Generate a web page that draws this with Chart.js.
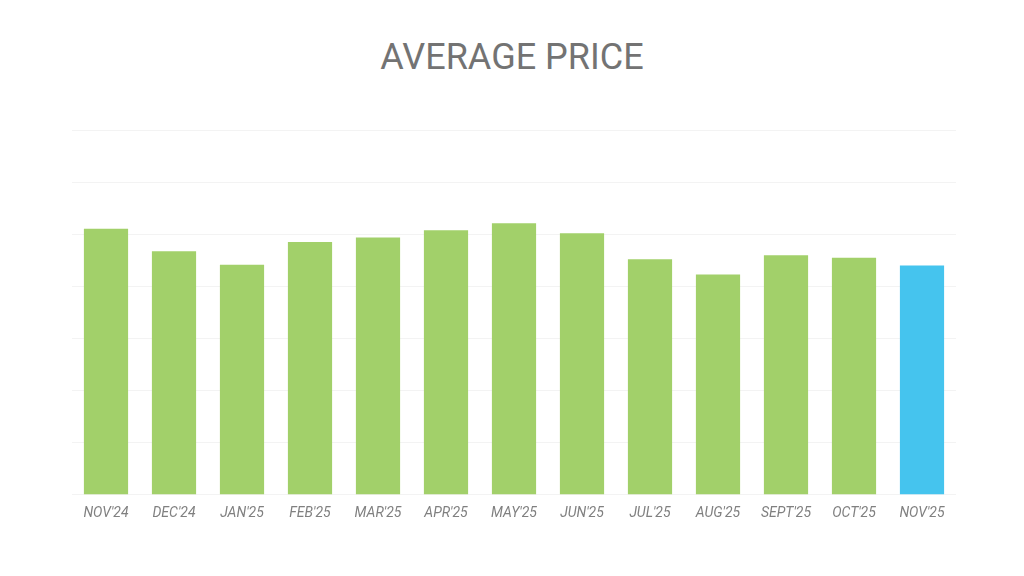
<!DOCTYPE html>
<html>
<head>
<meta charset="utf-8">
<script src="https://cdn.jsdelivr.net/npm/chart.js@4"></script>
<style>
  html, body { margin: 0; padding: 0; background: #fff; }
  #wrap { position: relative; width: 1024px; height: 576px; }
  h1 { position: absolute; top: 36px; left: 0; width: 1024px; margin: 0; text-align: center;
       font: 400 36px Roboto, sans-serif; color: #737373; }
  #box { position: absolute; left: 62px; top: 130px; width: 900px; height: 395px; }
</style>
</head>
<body>
<div id="wrap">
  <h1>AVERAGE PRICE</h1>
  <div id="box"><canvas id="c"></canvas></div>
</div>
<script>
const months = ["NOV'24", "DEC'24", "JAN'25", "FEB'25", "MAR'25", "APR'25", "MAY'25",
  "JUN'25", "JUL'25", "AUG'25", "SEPT'25", "OCT'25", "NOV'25"];
const avgPrice = [1110415, 1067186, 1040994, 1084547, 1093254, 1107463, 1120879,
  1101691, 1051719, 1022143, 1059377, 1054372, 1039458];
const barColors = months.map((m, i) => i === months.length - 1 ? '#45c4ee' : '#a2d06a');

// writes the value vertically inside each bar, from the bottom up
const insideLabels = {
  id: 'insideLabels',
  afterDatasetsDraw(chart) {
    const ctx = chart.ctx;
    const meta = chart.getDatasetMeta(0);
    ctx.save();
    ctx.fillStyle = '#fff';
    ctx.font = 'bold 31px Roboto, sans-serif';
    ctx.textAlign = 'left';
    ctx.textBaseline = 'middle';
    meta.data.forEach((bar, i) => {
      ctx.save();
      ctx.translate(bar.x + 1, bar.base - 8);
      ctx.rotate(-Math.PI / 2);
      ctx.fillText('$' + avgPrice[i].toLocaleString('en-US'), 0, 0);
      ctx.restore();
    });
    ctx.restore();
  }
};

new Chart(document.getElementById('c'), {
  type: 'bar',
  data: {
    labels: months,
    datasets: [{ data: avgPrice, backgroundColor: barColors, barPercentage: 0.65, categoryPercentage: 1 }]
  },
  options: {
    responsive: true,
    maintainAspectRatio: false,
    animation: false,
    layout: { padding: { left: 10, right: 6 } },
    plugins: { legend: { display: false }, tooltip: { enabled: false } },
    scales: {
      x: {
        grid: { display: false },
        border: { display: false },
        ticks: { color: '#808080', font: { family: 'Roboto', size: 14, style: 'italic' }, maxRotation: 0 }
      },
      y: {
        min: 600000, max: 1300000,
        ticks: { display: false, stepSize: 100000 },
        grid: { color: '#f3f3f3', drawTicks: false },
        border: { display: false }
      }
    }
  },
  plugins: [insideLabels]
});
</script>
</body>
</html>
